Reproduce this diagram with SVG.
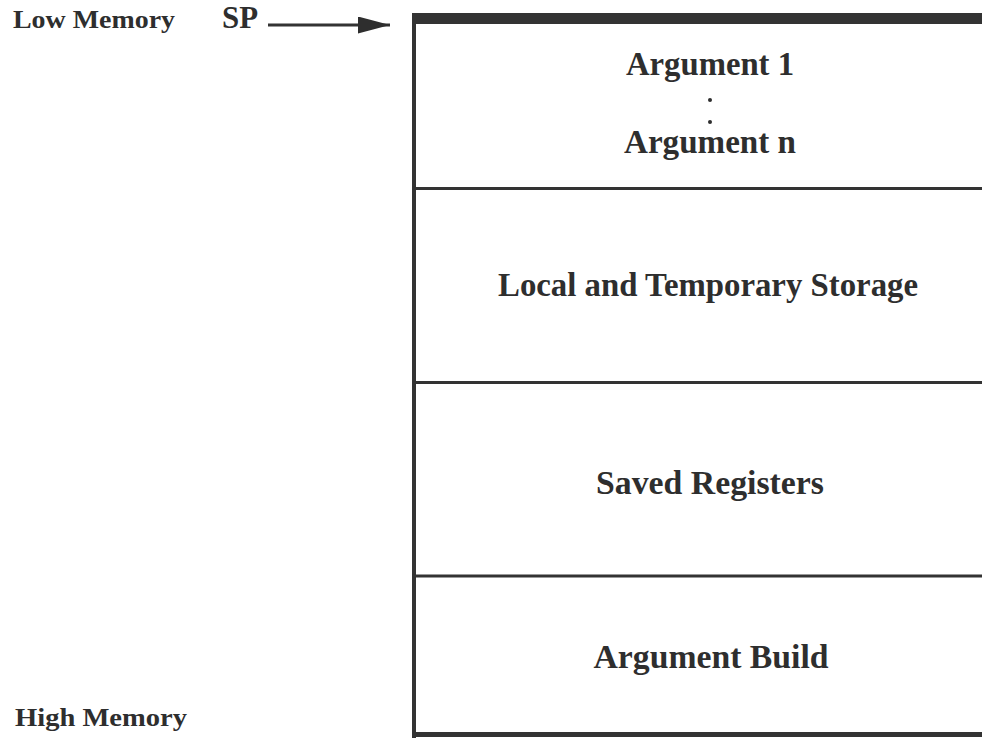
<svg xmlns="http://www.w3.org/2000/svg" width="982" height="738" viewBox="0 0 982 738">
<style>
text{font-family:"Liberation Serif","Times New Roman",serif;font-weight:bold;fill:#2e2e2e}
.big{font-size:33px}
.side{font-size:26px}
.line{stroke:#333;fill:none}
</style>
<defs>
<marker id="ah" viewBox="0 0 32 17" refX="32" refY="8.5" markerWidth="32" markerHeight="17" markerUnits="userSpaceOnUse" orient="auto">
<path d="M0,0 L32,8.5 L0,17 Z" fill="#2e2e2e"/>
</marker>
</defs>
<rect width="982" height="738" fill="#fff"/>
<g id="labels">
<text class="side" x="13" y="28" textLength="162" lengthAdjust="spacingAndGlyphs">Low Memory</text>
<text class="side" x="15" y="726" textLength="172" lengthAdjust="spacingAndGlyphs">High Memory</text>
<text x="222" y="28" font-size="31" textLength="36" lengthAdjust="spacingAndGlyphs">SP</text>
</g>
<g id="stack-frame">
<rect x="412" y="13" width="570" height="11" fill="#333"/>
<line class="line" x1="414" y1="13" x2="414" y2="738" stroke-width="4"/>
<line class="line" x1="412" y1="734.5" x2="982" y2="734.5" stroke-width="5"/>
</g>
<g id="node-arguments">
<line class="line" x1="412" y1="188.5" x2="982" y2="188.5" stroke-width="3"/>
<text class="big" x="710" y="75" text-anchor="middle" textLength="168" lengthAdjust="spacingAndGlyphs">Argument 1</text>
<circle cx="710" cy="100" r="2" fill="#2e2e2e"/>
<circle cx="710" cy="122" r="2" fill="#2e2e2e"/>
<text class="big" x="710" y="153" text-anchor="middle" textLength="172" lengthAdjust="spacingAndGlyphs">Argument n</text>
</g>
<g id="node-local">
<line class="line" x1="412" y1="382.5" x2="982" y2="382.5" stroke-width="3"/>
<text class="big" x="708" y="296" text-anchor="middle" textLength="420" lengthAdjust="spacingAndGlyphs">Local and Temporary Storage</text>
</g>
<g id="node-saved">
<line class="line" x1="412" y1="576" x2="982" y2="576" stroke-width="3"/>
<text class="big" x="710" y="494" text-anchor="middle" textLength="228" lengthAdjust="spacingAndGlyphs">Saved Registers</text>
</g>
<g id="node-build">
<text class="big" x="711" y="668" text-anchor="middle" textLength="235" lengthAdjust="spacingAndGlyphs">Argument Build</text>
</g>
<g id="connectors">
<line class="line" x1="268" y1="25" x2="390" y2="25" stroke-width="3" marker-end="url(#ah)"/>
</g>
</svg>
